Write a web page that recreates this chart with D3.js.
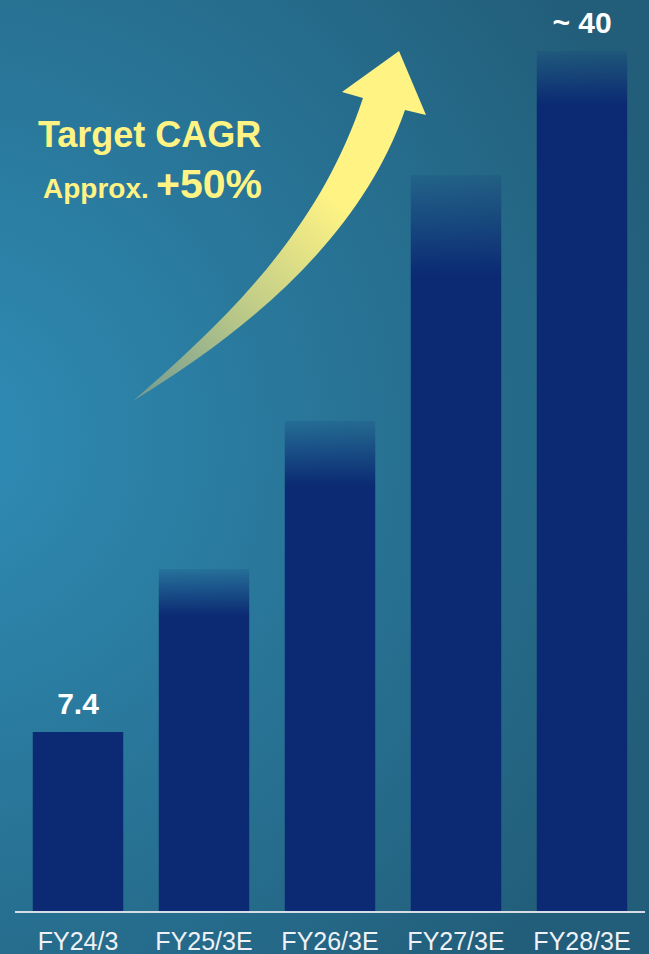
<!DOCTYPE html>
<html>
<head>
<meta charset="utf-8">
<script src="https://cdn.jsdelivr.net/npm/d3@7"></script>
<style>
  html, body { margin: 0; padding: 0; background: #2a7aa0; }
  svg { display: block; }
</style>
</head>
<body>
<svg id="chart" width="649" height="954"></svg>
<script>
// ---- data ----
const categories = ["FY24/3", "FY25/3E", "FY26/3E", "FY27/3E", "FY28/3E"];
const values = [7.4, 14.1, 20.2, 30.3, 35.4];          // estimated bar heights (units)
const valueLabels = ["7.4", "", "", "", "~ 40"];
const isEstimate = [false, true, true, true, true];
const titleLine1 = "Target CAGR";
const titleLine2a = "Approx.";
const titleLine2b = "+50%";

// ---- styling (not data) ----
const fadeLen = [0, 47, 65, 100, 53];
const W = 649, H = 954;
const barColor = "#0b2a73";
const yellow = "#fff384";
const font = "'Liberation Sans', Arial, Helvetica, sans-serif";

const svg = d3.select("#chart");
const defs = svg.append("defs");

// background gradient
const bg = defs.append("radialGradient").attr("id", "bg")
  .attr("gradientUnits", "userSpaceOnUse")
  .attr("cx", -60).attr("cy", 440).attr("r", 760);
bg.append("stop").attr("offset", 0).attr("stop-color", "#2f8db7");
bg.append("stop").attr("offset", 1).attr("stop-color", "#225e7a");
svg.append("rect").attr("width", W).attr("height", H).attr("fill", "url(#bg)");

// scales
const x = d3.scaleBand().domain(categories).range([15, 645])
  .paddingInner(0.282).paddingOuter(0.141);
const y = d3.scaleLinear().domain([0, 37.5]).range([912, 0]);

// per-bar fade gradients
categories.forEach((c, i) => {
  const top = y(values[i]);
  const g = defs.append("linearGradient").attr("id", "fade" + i)
    .attr("gradientUnits", "userSpaceOnUse")
    .attr("x1", 0).attr("x2", 0).attr("y1", top).attr("y2", top + fadeLen[i]);
  g.append("stop").attr("offset", 0).attr("stop-color", barColor).attr("stop-opacity", isEstimate[i] ? 0.12 : 1);
  g.append("stop").attr("offset", 1).attr("stop-color", barColor).attr("stop-opacity", 1);
});

// bars
svg.append("g").selectAll("rect").data(categories).join("rect")
  .attr("x", d => x(d))
  .attr("width", x.bandwidth())
  .attr("y", (d, i) => y(values[i]))
  .attr("height", (d, i) => y(0) - y(values[i]))
  .attr("fill", (d, i) => isEstimate[i] ? `url(#fade${i})` : barColor);

// baseline
svg.append("line")
  .attr("x1", x.range()[0]).attr("x2", x.range()[1])
  .attr("y1", y(0)).attr("y2", y(0))
  .attr("stroke", "#d6dde4").attr("stroke-width", 2);

// category labels (axis)
const axis = d3.axisBottom(x).tickSize(0).tickPadding(0);
const ax = svg.append("g").attr("transform", `translate(0,${y(0)})`).call(axis);
ax.select(".domain").remove();
ax.selectAll("text")
  .attr("y", 38).attr("dy", null)
  .attr("font-family", font).attr("font-size", 25)
  .attr("fill", "#eef2f6");

// value labels
svg.append("g").selectAll("text").data(categories).join("text")
  .attr("x", d => x(d) + x.bandwidth() / 2)
  .attr("y", (d, i) => y(values[i]) - 18)
  .attr("text-anchor", "middle")
  .attr("font-family", font).attr("font-weight", "bold").attr("font-size", 30)
  .attr("fill", "#ffffff")
  .text((d, i) => valueLabels[i]);

// growth arrow (decorative)
const ag = defs.append("linearGradient").attr("id", "arrowGrad")
  .attr("gradientUnits", "userSpaceOnUse")
  .attr("x1", 133).attr("y1", 401).attr("x2", 330).attr("y2", 195);
ag.append("stop").attr("offset", 0).attr("stop-color", "#7f9f8f").attr("stop-opacity", 0.85);
ag.append("stop").attr("offset", 0.45).attr("stop-color", "#b6c688");
ag.append("stop").attr("offset", 1).attr("stop-color", yellow);

const p = d3.path();
p.moveTo(399, 51);
p.lineTo(426, 115);
p.lineTo(405, 110);
p.bezierCurveTo(362, 235, 250, 330, 133, 401);
p.bezierCurveTo(220, 325, 318, 235, 363, 98);
p.lineTo(342, 92);
p.closePath();
svg.append("path").attr("d", p.toString()).attr("fill", "url(#arrowGrad)");

// title text
svg.append("text").attr("x", 38).attr("y", 147)
  .attr("font-family", font).attr("font-weight", "bold").attr("font-size", 36)
  .attr("fill", yellow).text(titleLine1);
const t2 = svg.append("text").attr("x", 43).attr("y", 198)
  .attr("font-family", font).attr("font-weight", "bold").attr("fill", yellow);
t2.append("tspan").attr("font-size", 28).text(titleLine2a);
t2.append("tspan").attr("x", 156).attr("font-size", 41).text(titleLine2b);
</script>
</body>
</html>
